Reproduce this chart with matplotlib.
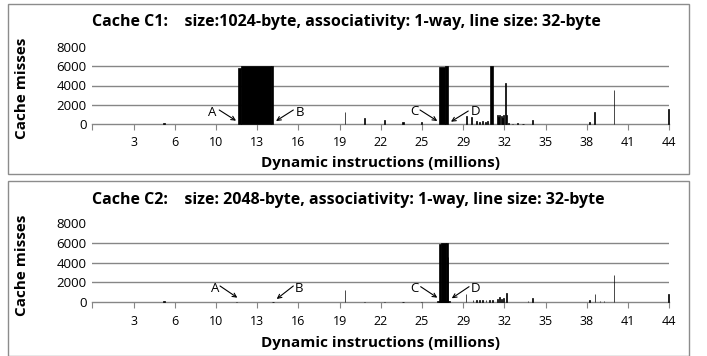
import matplotlib
matplotlib.use("Agg")
import matplotlib.pyplot as plt
from matplotlib.patches import Rectangle
import numpy as np

# ---------------- data ----------------
tick_labels = ["3", "6", "10", "13", "16", "19", "22", "25", "29", "32", "35", "38", "41", "44"]
x_max = 44.0
y_max = 8000
y_ticks = [0, 2000, 4000, 6000, 8000]

# Cache C1: bar left edges (millions), widths, heights (misses)
c1_x = [5.40, 11.09, 11.35, 13.60, 19.25, 20.73, 22.25, 23.65, 25.05,
        26.46, 26.90, 28.48, 28.86, 29.24, 29.50, 29.70, 29.95, 30.10,
        30.36, 30.84, 30.95, 31.05, 31.15, 31.25, 31.35, 31.45, 31.55,
        31.70, 32.00, 32.40, 32.80, 33.52, 37.88, 38.26, 39.76, 43.93]
c1_w = [0.15, 0.26, 2.25, 0.17, 0.05, 0.05, 0.08, 0.10, 0.08,
        0.44, 0.20, 0.06, 0.06, 0.06, 0.06, 0.06, 0.06, 0.06,
        0.18, 0.06, 0.06, 0.06, 0.06, 0.06, 0.06, 0.06, 0.06,
        0.10, 0.10, 0.10, 0.10, 0.05, 0.08, 0.05, 0.05, 0.05]
c1_h = [100, 5850, 5980, 6050, 1270, 600, 380, 220, 200,
        5950, 6050, 850, 700, 350, 250, 300, 200, 300,
        6050, 900, 700, 950, 800, 650, 900, 4230, 950,
        60, 50, 60, 50, 420, 170, 1280, 3530, 1525]

# Cache C2
c2_x = [5.40, 10.95, 13.72, 19.25, 20.73, 22.25, 23.65, 25.05,
        26.30, 26.46, 26.60, 27.00, 27.10, 28.48, 29.00, 29.25, 29.50,
        29.75, 30.00, 30.25, 30.50, 30.84, 31.00, 31.15, 31.30, 31.55,
        33.20, 33.52, 37.88, 38.30, 38.70, 39.00, 39.76, 43.93]
c2_w = [0.15, 0.12, 0.12, 0.05, 0.10, 0.10, 0.10, 0.10,
        1.00, 0.14, 0.40, 0.10, 0.05, 0.05, 0.05, 0.05, 0.05,
        0.05, 0.05, 0.05, 0.05, 0.06, 0.06, 0.06, 0.06, 0.05,
        0.05, 0.05, 0.06, 0.05, 0.05, 0.05, 0.05, 0.05]
c2_h = [100, 60, 60, 1240, 80, 80, 60, 60,
        150, 5850, 5950, 6000, 4600, 840, 200, 200, 200,
        200, 200, 200, 200, 350, 500, 300, 450, 900,
        150, 400, 250, 840, 100, 100, 2760, 840]

titles = ["Cache C1:    size:1024-byte, associativity: 1-way, line size: 32-byte",
          "Cache C2:    size: 2048-byte, associativity: 1-way, line size: 32-byte"]
ylabel = "Cache misses"
xlabel = "Dynamic instructions (millions)"

# annotations: label, text pos, arrow tail, arrow head  (data coords)
c1_ann = [("A", (9.15, 1174), (9.68, 1455), (10.96, 343)),
          ("B", (15.84, 1174), (15.33, 1455), (14.01, 312)),
          ("C", (24.55, 1278), (24.99, 1455), (26.31, 312)),
          ("D", (29.24, 1278), (28.67, 1350), (27.35, 239))]
c2_ann = [("A", (9.36, 1343), (9.74, 1646), (11.06, 465)),
          ("B", (15.76, 1343), (15.33, 1646), (14.06, 333)),
          ("C", (24.55, 1343), (25.04, 1576), (26.31, 465)),
          ("D", (29.24, 1343), (28.73, 1576), (27.41, 404))]

# ---------------- drawing ----------------
plt.rcParams['font.family'] = ['Liberation Sans Narrow', 'Open Sans', 'DejaVu Sans']

W, H = 707, 356
fig = plt.figure(figsize=(W / 100, H / 100), dpi=100)

grid_col = "#868686"

def fx(px):
    return px / W

def fy(py):
    return 1 - py / H

panels = [
    dict(x=c1_x, w=c1_w, h=c1_h, title=titles[0], ann=c1_ann,
         ax_top=47, ax_bot=124, box=(8, 4, 689, 174), title_y=22, xl_y=163),
    dict(x=c2_x, w=c2_w, h=c2_h, title=titles[1], ann=c2_ann,
         ax_top=223, ax_bot=302.3, box=(8, 181, 689, 356), title_y=200, xl_y=343),
]

ax_left, ax_right = 92.3, 669.3

for p in panels:
    bx0, by0, bx1, by1 = p["box"]
    fig.patches.append(Rectangle((fx(bx0), fy(by1)), fx(bx1 - bx0), (by1 - by0) / H,
                                 transform=fig.transFigure, fill=False,
                                 edgecolor="#8c8c8c", linewidth=1.0))
    ax = fig.add_axes([fx(ax_left), fy(p["ax_bot"]), fx(ax_right - ax_left),
                       (p["ax_bot"] - p["ax_top"]) / H])
    ax.bar(p["x"], p["h"], width=p["w"], align="edge", color="black",
           edgecolor="black", linewidth=0.5, zorder=3, clip_on=False)
    ax.set_xlim(0, x_max)
    ax.set_ylim(0, y_max)
    ticks = np.linspace(0, x_max, len(tick_labels) + 1)
    ax.set_xticks(ticks)
    ax.set_xticklabels([""] + tick_labels, fontsize=9)
    ax.set_yticks(y_ticks)
    ax.set_yticklabels([str(v) for v in y_ticks], fontsize=9.5)
    ax.tick_params(axis="x", direction="out", length=4, color=grid_col, pad=5)
    ax.tick_params(axis="y", length=0, pad=4)
    for v in y_ticks[1:-1]:
        ax.axhline(v, color=grid_col, linewidth=1.0, zorder=0)
    for s in ["top", "right"]:
        ax.spines[s].set_visible(False)
    ax.spines["left"].set_visible(False)
    ax.spines["bottom"].set_color(grid_col)
    ax.spines["bottom"].set_linewidth(1.0)
    ax.set_facecolor("none")
    for lab, tpos, tail, head in p["ann"]:
        ax.text(tpos[0], tpos[1], lab, ha="center", va="center", fontsize=9.5)
        ax.annotate("", xy=head, xytext=tail,
                    arrowprops=dict(arrowstyle="->", color="black", lw=0.8,
                                    shrinkA=0, shrinkB=0, mutation_scale=7))
    fig.text(fx(92), fy(p["title_y"]), p["title"], ha="left", va="center",
             fontsize=11.5, fontweight="bold")
    fig.text(fx(381), fy(p["xl_y"]), xlabel, ha="center", va="center",
             fontsize=11, fontweight="bold")
    fig.text(fx(22), fy((p["ax_top"] + p["ax_bot"]) / 2 + 3), ylabel, ha="center",
             va="center", rotation=90, fontsize=11, fontweight="bold")

fig.savefig("out.png", dpi=100)
